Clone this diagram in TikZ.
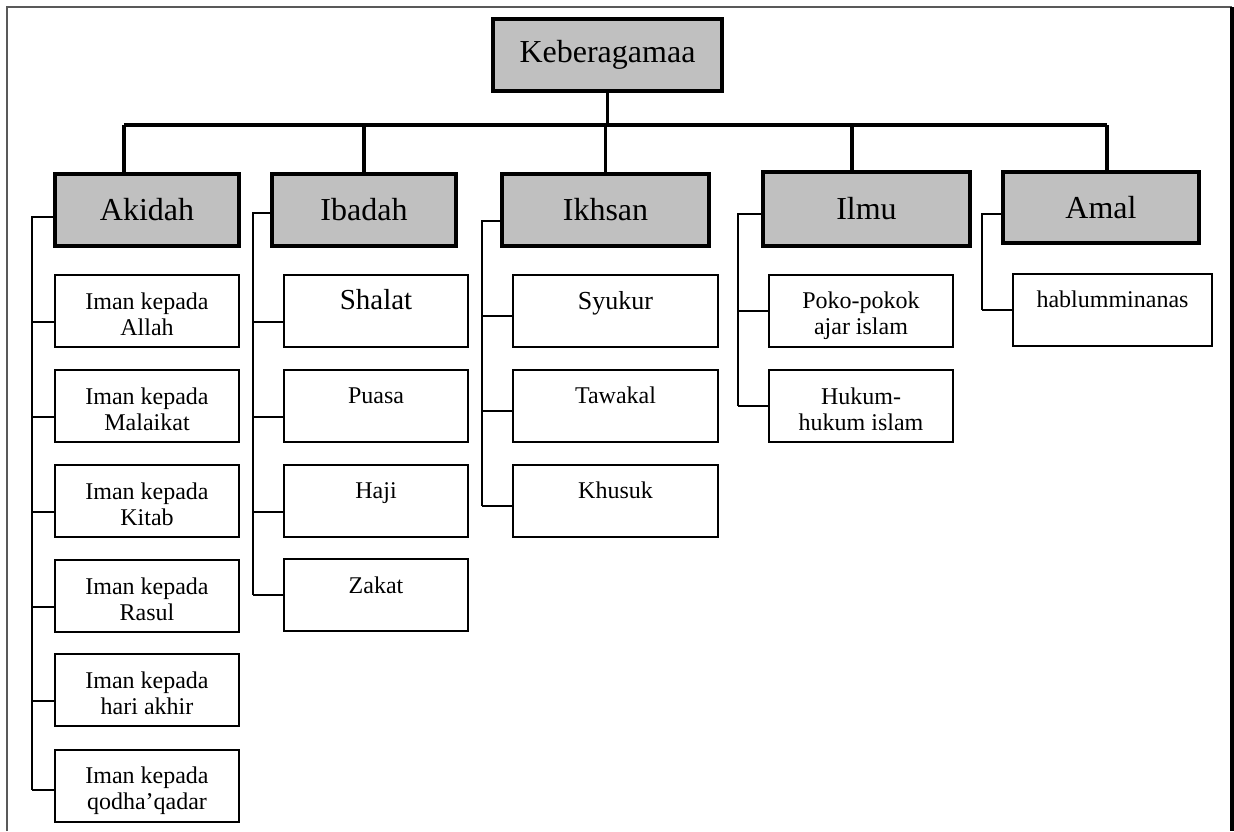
\documentclass[tikz,border=0pt]{standalone}
\usepackage{fontspec}
\setmainfont{Liberation Serif}
\definecolor{boxgray}{RGB}{192,192,192}

\begin{document}
\begin{tikzpicture}[x=0.5pt, y=-0.5pt,
  headbox/.style={draw, line width=2pt, fill=boxgray, inner sep=0pt, minimum height=36pt, font=\fontsize{16}{19}\selectfont},
  leafbox/.style={draw, line width=1pt, inner sep=0pt,
    execute at begin node={\begin{minipage}[t][36pt][t]{#1}\centering\fontsize{12}{13}\selectfont\rule{0pt}{17pt}},
    execute at end node={\end{minipage}}},
  bus/.style={line width=1.6pt},
  spine/.style={line width=0.8pt},
  tick/.style={line width=1pt}]
  \useasboundingbox (0,0) rectangle (1234,831);

  % frame
  \draw[line width=1pt, black!65] (7,831) -- (7,7) -- (1232,7);
  \draw[line width=1.6pt] (1232,7) -- (1232,831);

  % top and first level
  \node[headbox, minimum width=114.5pt] (kebe) at (607.5,55) {Keberagamaa};
  \node[headbox, minimum width=92pt] (akidah) at (147,210) {Akidah};
  \node[headbox, minimum width=92pt] (ibadah) at (364,210) {Ibadah};
  \node[headbox, minimum width=103.5pt] (ikhsan) at (605.5,210) {Ikhsan};
  \node[headbox, minimum width=103.5pt, minimum height=37pt] (ilmu) at (866.5,209) {Ilmu};
  \node[headbox, minimum width=98pt, minimum height=35.5pt] (amal) at (1101,207.5) {Amal};

  % akidah
  \node[leafbox=92pt] (allah) at (147,311) {Iman kepada\\Allah};
  \node[leafbox=92pt] (malaikat) at (147,406) {Iman kepada\\Malaikat};
  \node[leafbox=92pt] (kitab) at (147,501) {Iman kepada\\Kitab};
  \node[leafbox=92pt] (rasul) at (147,596) {Iman kepada\\Rasul};
  \node[leafbox=92pt] (akhir) at (147,690) {Iman kepada\\hari akhir};
  \node[leafbox=92pt] (qadar) at (147,785.5) {Iman kepada\\qodha’qadar};

  % ibadah
  \node[leafbox=92pt] (shalat) at (376,311) {{\fontsize{14.5}{16}\selectfont Shalat}};
  \node[leafbox=92pt] (puasa) at (376,405.5) {Puasa};
  \node[leafbox=92pt] (haji) at (376,500.5) {Haji};
  \node[leafbox=92pt] (zakat) at (376,595) {Zakat};

  % ikhsan
  \node[leafbox=102.5pt] (syukur) at (615.5,311) {{\fontsize{13}{15}\selectfont Syukur}};
  \node[leafbox=102.5pt] (tawakal) at (615.5,405.5) {Tawakal};
  \node[leafbox=102.5pt] (khusuk) at (615.5,500.5) {Khusuk};

  % ilmu
  \node[leafbox=92pt] (pokok) at (861,310.5) {Poko-pokok\\ajar islam};
  \node[leafbox=92pt] (hukum) at (861,406) {Hukum-\\hukum islam};

  % amal
  \node[leafbox=99.5pt] (hablum) at (1112.5,309.5) {hablumminanas};

  % bus from the top box
  \coordinate (dA) at (124,125);
  \coordinate (dI) at (852,125);
  \coordinate (dM) at (1107,125);
  \draw[bus] (kebe.south) -- (kebe.south |- dA);
  \draw[bus] (dA) -- (dM);
  \draw[bus] (dA) -- (dA |- akidah.north);
  \draw[bus] (ibadah.north |- dA) -- (ibadah.north);
  \draw[bus] (ikhsan.north |- dA) -- (ikhsan.north);
  \draw[bus] (dI) -- (dI |- ilmu.north);
  \draw[bus] (dM) -- (dM |- amal.north);

  % spines and ticks
  \draw[tick] ([yshift=-3.5pt]akidah.west) -| ([yshift=-2pt, xshift=-11pt]qadar.west);
  \foreach \n in {allah,malaikat,kitab,rasul,akhir}
    \draw[tick] ([yshift=-5.5pt]\n.west) -- ++(-22,0);
  \draw[tick] ([yshift=-2pt]qadar.west) -- ++(-22,0);

  \draw[spine] ([yshift=-1.5pt]ibadah.west) -| ([xshift=-15pt]zakat.west);
  \foreach \n in {shalat,puasa,haji}
    \draw[tick] ([yshift=-5.5pt]\n.west) -- ++(-30,0);
  \draw[tick] (zakat.west) -- ++(-30,0);

  \draw[spine] ([yshift=-5.5pt]ikhsan.west) -| ([yshift=-2.5pt, xshift=-15pt]khusuk.west);
  \foreach \n in {syukur,tawakal,khusuk}
    \draw[tick] ([yshift=-2.5pt]\n.west) -- ++(-30,0);

  \draw[spine] ([yshift=-2.5pt]ilmu.west) -| ([xshift=-15pt]hukum.west);
  \foreach \n in {pokok,hukum}
    \draw[tick] (\n.west) -- ++(-30,0);

  \draw[spine] ([yshift=-3.25pt]amal.west) -| ([xshift=-15pt]hablum.west);
  \draw[tick] (hablum.west) -- ++(-30,0);
\end{tikzpicture}
\end{document}
